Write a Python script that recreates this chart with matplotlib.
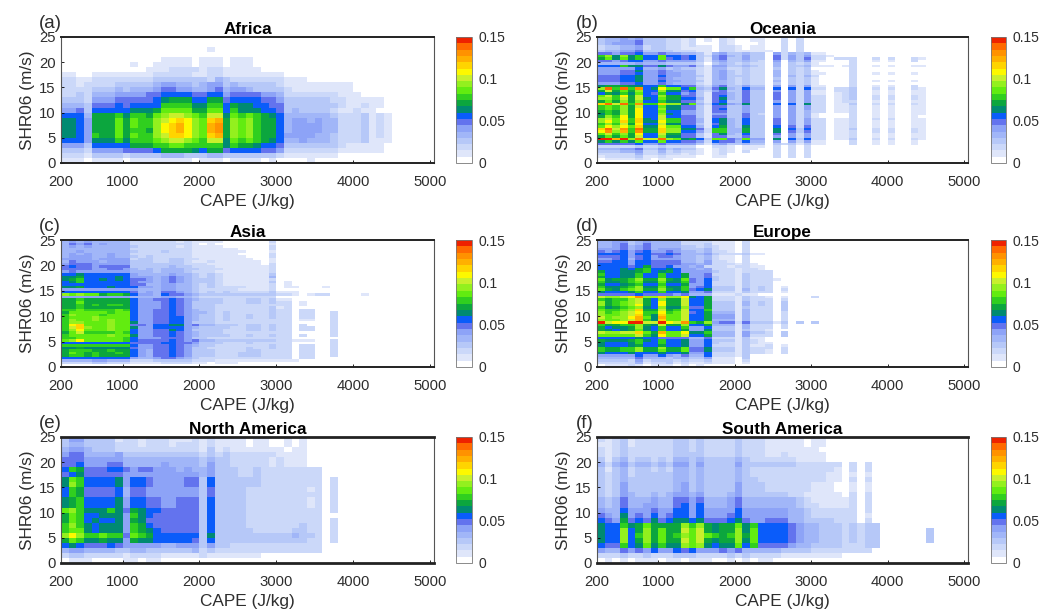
import matplotlib
matplotlib.use("Agg")
import matplotlib.pyplot as plt
from matplotlib.colors import ListedColormap, BoundaryNorm
import numpy as np

FIG_W = 1045
FIG_H = 611
N_COLS = 49
CAPE_STEP = 100
CAPE_MIN = 200
LEVEL_STEP = 0.0075

plt.rcParams['font.family'] = ['Liberation Sans', 'DejaVu Sans']
TEXT_COLOR = '#2e2e2e'

# colour levels of the colorbar, bottom to top
LEVEL_COLORS = ['#ffffff', '#dfe6fa', '#cbd8f9', '#b6c8f8', '#a1b6f8', '#8da3f7',
                '#6373ee', '#0a5cfa', '#008a72', '#0ca63e', '#30cf1f', '#62ec10',
                '#93f01e', '#c8f02c', '#fdf800', '#ffd400', '#ffb000', '#ff9200',
                '#ff6a00', '#ee2200']

# each string is one row of the panel, top row first, one base-20 colour level per CAPE bin
AFRICA = [
    "", "",
    "00000000000000000001",
    "",
    "00000000000001111011101110",
    "00000000010011111011101110",
    "00000000000111222212211111",
    "11001111111122222112211111111",
    "22112222222233333332432222222111",
    "22122223333345544345534333332111111111",
    "22223334344456655445645543333211111111",
    "2232444555566777766775666655422222221110",
    "333255566666789997799677776653333332211111",
    "4443666767777aaaa88aa798877663333333211211",
    "5563777778889bbbb99bb7a888776343333211211",
    "7774999a8aa9bcddcbadd8baba98744444432223121",
    "8875999b9baacdefecbfg9cbca99745545442223121",
    "8875999b9baacefgecbgh9cbca99745555442223121",
    "8875999b9aa9cefgecbgh9cbca99745555442223121",
    "8875a99b9baacdffecbfg9cbca99755554432223121",
    "7775888a8aaabcddcbadd8baba98744544432223111",
    "555377777999aabbaaaaa8a9987763333333211111",
    "333255556666799998799677776652222222111111",
    "222133332333344433344333333321111111",
    "11101111011111111011101111010000100",
]

OCEANIA = [
    "3445453332212010210011002020",
    "3445563332212010210011002020",
    "3455563332212000210001002020",
    "2334452332212110221011002020",
    "2334452332211110221011002020",
    "3445563333222110221111102020",
    "665667556554431453343305243411",
    "ac8c8a77b7767325643533062535221",
    "9b8b8a77b6767315633533062536 220222002020021",
    "6656775565555314533432050435 110002001010020",
    "4444454443333203432322040323 100002",
    "777a886686556315533432040334 111012001010011",
    "5555574453433214422322030323 000002",
    "5556685565444214532322040323 100002",
    "5556675565544214532322040323 110002001010010",
    "6667785575544314533322040424 200002",
    "6667785565444214532322030323 100002",
    "6667785575544314432322040323 100002001010010",
    "5556675565444214432322030323 100002",
    "89998877a7766325633533050525 110002001010020",
    "ciaiah78ebb7a436843744070727 220223002020021",
    "9d9b9c77c8867325633633050525 110223001010011",
    "798a8b76a7756316643633060525 110123001010011",
    "bdae9d77c9966316743633060525 220123002020021",
    "ccad9d87b9977416843633060525 220123002020021",
    "9b9c9c77a8866316733633050525 220122001010011",
    "fidiahaafcc8b427854833070728 220113002020021",
    "abac9d77b8866316633533050525 220112001010011",
    "abac9e77c8866316733533050525 220112001010011",
    "9a9c9e77b7755316633533050524 220112001010011",
    "8a9c9e77c8755315533632050524 100002001010011",
    "9cae9e77d7766316633633050524 100002001010010",
    "cdbeaf87daa66417843733060525 220112002020011",
    "cebfaf88eaa66417843733060525 220112001010011",
    "acad9e77d8866316843733060525 220112001010011",
    "becebf88ebb77417943833070626 220112001010011",
    "fidhai99fcc8862aa44933080737 220113002020021",
    "ehcgah99fcc7752aa44933080636 220112002020021",
    "bdac9e77d9966316843733060525 220112001010011",
    "9b9b9d77c8866316633633050525 220112001010011",
    "jjgjciddicb8973bb65b55080737 220113002020021",
    "8a8a8b77b7766527664744050525 110002001010010",
    "6666675565555314533433032313 11000200101001",
    "2222232232222002210111020202",
    "4445563353433101210110020202",
    "3334452242322101210200020202",
    "2222242232212101200000020202",
    "1222231121111001100000020202",
    "0111121011000",
    "",
]

ASIA = [
    "454544444 22222212 1111 000000 2",
    "465645444 22222222 1010 000000 1",
    "454544444 32222212 1111 000000 2",
    "444444444 22222222 1111 110000 2",
    "445444444 32223222 1111 111000 1",
    "454544544 22222222 1111 110000 2",
    "455544544 32322222 1111 111000 2",
    "555545555 23322332 2111 111100 1",
    "465554555 33322332 1121 111110 1",
    "566655555 33333332 2211 111110 2",
    "676656666 33333433 2221 111111 2",
    "666655665 43434443 3222 111111 2",
    "565555555 44434443 2221 111111 2",
    "778777777 54444544 3232 111111 3",
    "889777787 55545654 3232 111111 4",
    "89a778787 66545654 3332 111111 2",
    "78a777777 65545654 3332 111111 3 010",
    "777777777 66445544 3232 111111 2 010",
    "889777877 75545544 3232 222111 2 011 0001",
    "555555555 54445544 3222 221111 2",
    "777777777 64546654 3232 322222 3 111",
    "cbcbb9aa9 75547665 4333 333333 3 2210 1220 0001",
    "555555555 44445544 3222 222222 2",
    "99a999999 75566765 4333 222332 3 110",
    "99b999999 75556765 3333 222332 3 220 1",
    "99a9a9aa9 75556765 3332 222222 2 220 1",
    "99a999999 75556765 3332 222222 3 120 0",
    "aabaaaaba 75566765 4332 222222 3 220 22",
    "9bbbbbabb 75566765 4432 322222 3 220 22 00 2",
    "acbbbabbb 75566765 4332 322322 3 220 22 00 2",
    "abbbcbbbb 75566775 4332 322322 3 220 22 00 2",
    "acbbcbcbb 75566775 4332 322222 2 220 11 00 2",
    "accbbbcbb 85566775 3332 222222 2 220 00 00 2",
    "aefbbbcbb 66577885 6443 332332 3 220 20 00 2",
    "adfcbbcbb 85577775 4333 322332 3 220 22 00 2",
    "acebbbcbb 75566875 3333 222332 3 220 22 00 2",
    "9bdaaaaba 75566765 4333 222222 2 220 00 00 2",
    "abbbbbcbb 85566765 4333 322322 3 220 20 00 2",
    "aabbbbbba 75556665 3322 222222 2 220 00",
    "bcebbbbba 76666765 6443 333333 3 221 11 00 2",
    "777777777 66667766 5333 222322 2 220 00 00 2",
    "aaaaaaaaa 75566765 4332 222222 3 220 22 00 2",
    "889888888 65566765 3322 222322 3 220 22 00 2",
    "9aaa99a99 75466765 3332 222332 2 220 22 00 2",
    "9ba9a99a9 75466765 3332 223332 2 220 22 00 2",
    "9aa9a9999 75466765 3332 223332 2 220 22 00 2",
    "777777777 54456654 3222 222222 2 220 22",
    "444455444 22233333 2221 111111 1 111",
    "222233222 11112222 1101 110000",
    "",
]

EUROPE = [
    "44553454444222211102",
    "44563464444222311102",
    "44564564444332321102",
    "55564564555333421102",
    "65675675565443422102",
    "7777577667644453222311",
    "66675675665443421102",
    "55674675555443421102",
    "66775776666443522102",
    "777757766665545222121",
    "77776796675545222122 11",
    "777879a77875545222122 1",
    "977889a78975555322122 2 2",
    "a7788a77a77955622213222",
    "97788a77a77955632213222",
    "b899ac99c98b657322132221",
    "a889ab88b88a65722213222",
    "97789a77a77955722213222",
    "a889ac88b88a5673331323201",
    "b98abc99c98a6783331423202",
    "87778a77a7785562221322201",
    "666667666656444111211",
    "dccdehccfcce87922213221010002",
    "a9aacd97c99d7792221322202",
    "c9abcd97e99d7793331423203",
    "c9abce97e99d7793331423203",
    "a89abc87c88c6693331322203",
    "baabcf99d9ad77a3331422203",
    "cabcdeaaeabd6794441422202",
    "cbbcdfa8fbbd7795551422202",
    "dbcceg b8gbbd7795551422202",
    "cbbcdga8fbbd7794441422202",
    "jdeejjddjedha9c5662633313030 3",
    "a99aac98d99c7794441422202",
    "97889c87a77a5573331422202",
    "98789b87a7795583331322 1",
    "dccddfb9gbbe88a4441533203",
    "bbbbbda8ebbd7794441522203",
    "77777877666644622213 11",
    "98889a87a7785573331321",
    "87778a77a778557322132 11",
    "87778977977855722213112 01",
    "a99aac99c99b66833313222 02",
    "a99aac99b99b66833313221 02",
    "87778777877855722213221 02",
    "55555755754644722213",
    "44444644434433511103",
    "33332523332322311102",
    "22222412231211211101",
    "011121011101010",
]

NORTH_AMERICA = [
    "355 3333 12212 22111 21211 1101 100101",
    "344 3333 22212 22122 21211 1101 100101",
    "455 4333 22222 22222 21312 1111 111011",
    "566 4444 53333 33333 32323 2222 221111",
    "666 5555 54444 44444 43433 2222 212111",
    "667 5556 64444 45444 43533 2222 212111",
    "7a9 6667 76566 55545 44533 3223 222222 2 2",
    "678 6666 65555 55555 54533 3223 222222 2 2 0 0",
    "8ba 7777 85776 55556 63733 3333 222222 2 2 0 2",
    "8ca 7777 85776 55556 63733 3333 222222 2 2 0 2",
    "7a9 6666 74665 55555 53633 3322 222222 1 2 0 2",
    "7a9 6666 74665 55555 53633 3322 222222 2 2 0 2",
    "89a 7777 85776 65566 63733 3322 222222 1 2 0 2",
    "89a 7777 85776 65566 63733 3322 222222 1 2 0 2",
    "bca 888a 86987 76666 63733 3322 222222 2 2 0 2",
    "9ba 7788 85a87 66666 63733 3322 222222 2 2 0 0",
    "9ba 7877 85986 66666 63733 3322 222222 2 2 0 2",
    "aca 8788 85a97 66666 63733 3322 222223 2 2 0 2",
    "abb 8788 85a98 76666 63733 3332 222233 2 2 0 2",
    "cec aaba a6ba9 77777 73833 3333 333343 3 2 0 2",
    "9ba 8898 85988 77777 63733 3333 333333 2 2 0 2",
    "787 6667 65555 54455 53533 2222 222222 2 2",
    "455 4444 33443 33333 42322 2222 222222 2 2",
    "233 2222 21222 21111 12111 1111",
    "011 1000 01101 10",
]

SOUTH_AMERICA = [
    "212312222233232222322211111011",
    "112312222233232222322211111011",
    "212322222233232222322211111110",
    "212322222233332222322211211111",
    "313423323244343333432222221111",
    "42453443435535333353333333222222 0 202",
    "31342332324434333343222222222221 0 202",
    "32342333334434333343222222222211 0 101",
    "32343333334434333343322222222211 0 202",
    "32353333334534333353332222221110 0 101",
    "32353333334534333353332222221110 0 101",
    "32354334345545333453333332211111 0 202",
    "43464445446656444564444444321111 1 202",
    "43464455446757444564444444322111 1 202",
    "54475556557757555575555554432222 2 202",
    "65485657567757555675555554432222 2 201",
    "76596768678878666786556664433332 2 202",
    "877a89b9999cac9899b8a 77776 544 333 2 3 2 3 3",
    "877c79c9b99dbd9899c8b 77776 544 333 2 3 2 3 3 000000 3",
    "877c7ac9b9acbdba9ac9b 77776 544 333 2 3 2 3 3 000000 3",
    "877c79c9b99dbd9899c8b 77776 544 333 2 3 2 3 3 000000 3",
    "766a78b8a88cbc8788b7a 66665 443 333 2 2 2 3 3",
    "5446565755767555656444 4433 332 222 2 2 2 2",
    "222322322233322223232222 11111111",
    "01010111011011100101011000000000",
]

LETTERS = ['(a)', '(b)', '(c)', '(d)', '(e)', '(f)']
TITLES = ['Africa', 'Oceania', 'Asia', 'Europe', 'North America', 'South America']
PANELS = [AFRICA, OCEANIA, ASIA, EUROPE, NORTH_AMERICA, SOUTH_AMERICA]

X_TICKS = [200, 1000, 2000, 3000, 4000, 5000]
Y_TICKS = [0, 5, 10, 15, 20, 25]
CBAR_TICKS = [0, 0.05, 0.1, 0.15]
CBAR_LABELS = ['0', '0.05', '0.1', '0.15']

# pixel boxes (left, top, right, bottom)
AX_BOXES = [(61, 37, 434, 163), (597, 37, 968, 163),
            (61, 240, 434, 367), (597, 240, 968, 367),
            (61, 437, 434, 563), (597, 437, 968, 563)]
CBAR_X = [(456, 472), (991, 1006)]


def to_grid(rows):
    grid = np.zeros((len(rows), N_COLS))
    for i, row in enumerate(rows):
        row = row.replace(' ', '')
        for j, c in enumerate(row):
            level = int(c, 20)
            if level > 0:
                grid[i, j] = (level + 0.5) * LEVEL_STEP
    return np.flipud(grid)


def px_axes(fig, left, top, right, bottom):
    return fig.add_axes([left / FIG_W, 1 - bottom / FIG_H,
                         (right - left) / FIG_W, (bottom - top) / FIG_H])


def main():
    fig = plt.figure(figsize=(FIG_W / 100, FIG_H / 100), dpi=100)
    cmap = ListedColormap(LEVEL_COLORS)
    bounds = [i * LEVEL_STEP for i in range(len(LEVEL_COLORS) + 1)]
    norm = BoundaryNorm(bounds, cmap.N)

    for i, rows in enumerate(PANELS):
        left, top, right, bottom = AX_BOXES[i]
        ax = px_axes(fig, left, top, right, bottom)
        grid = to_grid(rows)
        x_edges = CAPE_MIN + CAPE_STEP * np.arange(N_COLS + 1)
        y_edges = np.linspace(0, 25, grid.shape[0] + 1)
        mesh = ax.pcolormesh(x_edges, y_edges, grid, cmap=cmap, norm=norm)
        ax.set_xlim(200, 5050)
        ax.set_ylim(0, 25)
        ax.set_xticks(X_TICKS)
        ax.set_yticks(Y_TICKS)
        ax.tick_params(direction='in', length=2, width=0.6, labelsize=10.7,
                       labelcolor=TEXT_COLOR, pad=4)
        ax.tick_params(axis='x', pad=9)
        ax.set_xlabel('CAPE (J/kg)', fontsize=12.4, color=TEXT_COLOR, labelpad=3)
        ax.set_ylabel('SHR06 (m/s)', fontsize=12.4, color=TEXT_COLOR, labelpad=3)
        ax.set_title(TITLES[i], fontsize=12.3, fontweight='bold', color='black', pad=2)
        for side in ['top', 'bottom']:
            ax.spines[side].set_linewidth(1.4 if i < 4 else 2.0)
            ax.spines[side].set_color('#222222')
        for side in ['left', 'right']:
            ax.spines[side].set_linewidth(0.8)
            ax.spines[side].set_color('#555555')
        ax.text(-0.058 if i % 2 == 0 else -0.056, 1.04, LETTERS[i], transform=ax.transAxes,
                fontsize=13.5, color=TEXT_COLOR, ha='left', va='bottom')

        cb_left, cb_right = CBAR_X[i % 2]
        cax = px_axes(fig, cb_left, top, cb_right, bottom)
        cbar = fig.colorbar(mesh, cax=cax, ticks=CBAR_TICKS, spacing='proportional')
        cbar.ax.set_yticklabels(CBAR_LABELS)
        cbar.ax.tick_params(length=0, labelsize=10, labelcolor=TEXT_COLOR, pad=5)
        cbar.outline.set_linewidth(0.6)
        cbar.outline.set_edgecolor('#777777')
        cbar.ax.minorticks_off()

    fig.savefig('out.png', dpi=100)
    plt.close(fig)


if __name__ == "__main__":
    main()
